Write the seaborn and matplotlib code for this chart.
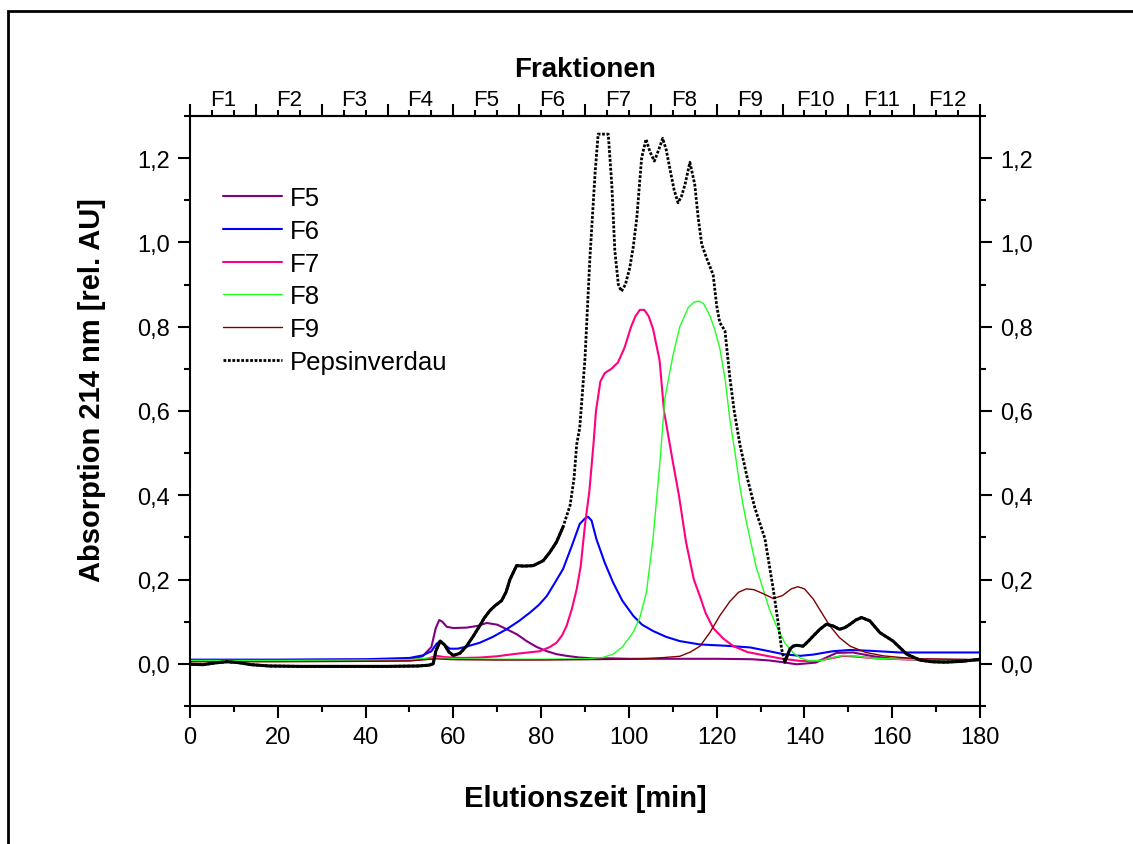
import numpy as np
import pandas as pd
import matplotlib
matplotlib.use("Agg")
import matplotlib.pyplot as plt
from matplotlib.ticker import MultipleLocator, FuncFormatter
from matplotlib.patches import Rectangle
import seaborn as sns

# ---------------- data ----------------
f5_x = [0, 20, 40, 50, 53, 55, 56, 56.8, 57.5, 58.5, 60, 63, 65.5, 67.6, 70, 72, 74.5, 76.7, 79, 81.3,
        83.5, 85.8, 88.8, 92, 96, 100, 110, 120, 128, 132, 135, 138.2, 142.6, 145, 147.3, 151, 155.7, 160, 168, 180]
f5_y = [0.009, 0.009, 0.01, 0.012, 0.018, 0.04, 0.085, 0.104, 0.1, 0.088, 0.085, 0.086, 0.09, 0.097, 0.093,
        0.083, 0.07, 0.054, 0.04, 0.030, 0.023, 0.019, 0.015, 0.013, 0.013, 0.012, 0.012, 0.012, 0.011, 0.008,
        0.004, -0.001, 0.003, 0.015, 0.026, 0.027, 0.018, 0.012, 0.01, 0.009]

f6_x = [0, 20, 40, 50, 53, 55, 56.2, 57, 58, 59.2, 61, 63, 66, 69, 72.1, 75, 77.5, 79.5, 81.3, 83, 85, 87,
        88.8, 90, 90.7, 91.5, 92.6, 94.5, 96.4, 98.5, 101, 103, 105.5, 108.5, 111.6, 116.2, 122, 127.6, 131,
        135.2, 139, 142, 146.5, 150.4, 155, 161.7, 170, 180]
f6_y = [0.01, 0.01, 0.011, 0.014, 0.02, 0.03, 0.048, 0.054, 0.045, 0.036, 0.036, 0.041, 0.05, 0.064, 0.082,
        0.102, 0.122, 0.14, 0.161, 0.19, 0.225, 0.28, 0.332, 0.345, 0.349, 0.34, 0.296, 0.24, 0.193, 0.15,
        0.114, 0.093, 0.078, 0.064, 0.054, 0.046, 0.043, 0.039, 0.032, 0.023, 0.019, 0.022, 0.030, 0.033,
        0.031, 0.027, 0.027, 0.027]

f7_x = [0, 20, 40, 50, 54, 56.2, 58, 62, 66, 70, 73.6, 77, 79.7, 82, 83.5, 84.8, 85.8, 87, 88.1, 89, 90,
        91, 92, 92.5, 93.5, 94.5, 96, 97.5, 99, 100.5, 101.5, 102.5, 103.5, 104.5, 105.5, 107, 108, 110, 111.4,
        113, 114.8, 116.2, 117.5, 119.2, 121.5, 123.8, 127, 131.4, 135, 139, 143, 146, 148.8, 152, 156, 165, 180]
f7_y = [0.007, 0.007, 0.007, 0.008, 0.012, 0.019, 0.016, 0.014, 0.015, 0.018, 0.023, 0.027, 0.030, 0.04,
        0.05, 0.068, 0.09, 0.13, 0.177, 0.23, 0.33, 0.41, 0.53, 0.6, 0.67, 0.69, 0.70, 0.715, 0.75, 0.8,
        0.825, 0.84, 0.84, 0.825, 0.795, 0.72, 0.6, 0.48, 0.4, 0.29, 0.2, 0.16, 0.12, 0.085, 0.06, 0.042,
        0.028, 0.019, 0.012, 0.007, 0.007, 0.013, 0.019, 0.017, 0.013, 0.01, 0.008]

f8_x = [0, 20, 40, 50, 56, 60, 70, 80, 90, 94, 96.4, 98.5, 101, 102.5, 104, 105.5, 107, 108.2, 110, 111.6,
        113.5, 114.8, 115.9, 117, 118.5, 119.5, 120.7, 122, 123, 124.2, 125.3, 126.5, 127.6, 129, 130.6, 132,
        133.6, 135.5, 137.4, 139, 141.2, 144, 146, 148.8, 152, 156, 165, 180]
f8_y = [0.008, 0.008, 0.009, 0.01, 0.015, 0.012, 0.011, 0.011, 0.012, 0.015, 0.023, 0.04, 0.075, 0.11, 0.17,
        0.297, 0.47, 0.63, 0.73, 0.80, 0.845, 0.858, 0.861, 0.855, 0.825, 0.795, 0.75, 0.67, 0.58, 0.5, 0.42,
        0.35, 0.297, 0.23, 0.177, 0.13, 0.09, 0.05, 0.027, 0.014, 0.007, 0.008, 0.014, 0.02, 0.018, 0.013,
        0.01, 0.008]

f9_x = [0, 20, 40, 50, 56, 60, 70, 80, 90, 100, 105, 108, 111.6, 114, 116.2, 118.5, 120.7, 123, 125, 126.8,
        128.5, 130.5, 132.9, 135, 137, 138.5, 140, 142, 144, 145.8, 148, 150.4, 154, 158, 162, 167, 180]
f9_y = [0.005, 0.005, 0.006, 0.007, 0.012, 0.01, 0.009, 0.009, 0.01, 0.011, 0.013, 0.015, 0.018, 0.028,
        0.042, 0.075, 0.114, 0.148, 0.17, 0.178, 0.176, 0.167, 0.155, 0.162, 0.178, 0.183, 0.178, 0.154,
        0.12, 0.09, 0.062, 0.042, 0.027, 0.019, 0.015, 0.012, 0.01]

pep_x = [0, 3, 5.5, 8.4, 11, 14, 18, 25, 35, 45, 52, 54.5, 55.4, 56, 57, 58, 59, 60, 61.5, 63, 64.5, 66, 67,
         68.3, 69.5, 71, 72, 72.9, 74.4, 76, 78.2, 80.5, 82, 83.5, 85, 86.6, 87.5, 88.1, 88.8, 90, 91.1, 92.3,
         93, 94, 95.3, 96.1, 96.8, 97.6, 98.3, 99.2, 100.2, 101, 101.8, 102.9, 103.9, 104.8, 105.8, 106.8,
         107.7, 108.5, 109.3, 110.3, 111.2, 112, 112.8, 113.9, 115, 115.8, 116.6, 117.7, 119.2, 120, 120.7,
         121.9, 123, 124, 125.3, 127, 128.7, 131, 132.9, 134, 134.8, 135.5, 136.1, 136.7, 137.4, 138.2, 139.7,
         141, 142, 143.5, 145, 146.5, 148, 149.2, 150.4, 151.7, 153, 154.9, 157.2, 160.2, 163.3, 166.3, 169,
         172, 176, 180]
pep_y = [-0.001, -0.002, 0.002, 0.005, 0.003, -0.002, -0.005, -0.006, -0.006, -0.006, -0.005, -0.003, 0.0,
         0.03, 0.054, 0.045, 0.028, 0.02, 0.025, 0.042, 0.065, 0.09, 0.108, 0.126, 0.138, 0.15, 0.17, 0.2,
         0.233, 0.232, 0.233, 0.245, 0.265, 0.289, 0.325, 0.376, 0.44, 0.52, 0.56, 0.725, 0.96, 1.165, 1.257,
         1.257, 1.257, 1.138, 0.98, 0.9, 0.884, 0.9, 0.94, 0.99, 1.058, 1.2, 1.245, 1.215, 1.193, 1.22, 1.247,
         1.22, 1.177, 1.125, 1.094, 1.11, 1.138, 1.19, 1.138, 1.058, 0.995, 0.963, 0.923, 0.85, 0.81, 0.79,
         0.68, 0.6, 0.52, 0.44, 0.37, 0.297, 0.177, 0.098, 0.035, 0.004, 0.02, 0.035, 0.042, 0.044, 0.042,
         0.055, 0.066, 0.082, 0.094, 0.09, 0.082, 0.086, 0.094, 0.104, 0.11, 0.102, 0.074, 0.054, 0.023,
         0.009, 0.005, 0.004, 0.006, 0.011]

fraction_labels = ["F1", "F2", "F3", "F4", "F5", "F6", "F7", "F8", "F9", "F10", "F11", "F12"]
fraction_width = 15  # minutes per fraction

# ---------------- style ----------------
sns.set_style("ticks")
plt.rcParams["font.family"] = ["Liberation Sans", "DejaVu Sans"]
for k in ["text.color", "axes.labelcolor", "xtick.color", "ytick.color", "axes.edgecolor"]:
    plt.rcParams[k] = "black"
plt.rcParams["axes.linewidth"] = 1.5

fig = plt.figure(figsize=(11.33, 8.45), dpi=100)
ax = fig.add_axes([190 / 1133, 1 - 707 / 845, 790 / 1133, 590 / 845])

series = [
    ("F5", f5_x, f5_y, "#800080", 1.5),
    ("F6", f6_x, f6_y, "#0000FF", 1.5),
    ("F7", f7_x, f7_y, "#FF0080", 1.5),
    ("F8", f8_x, f8_y, "#22FF22", 1.0),
    ("F9", f9_x, f9_y, "#800000", 1.0),
]
for name, xs, ys, col, lw in series:
    sns.lineplot(x=xs, y=ys, ax=ax, color=col, lw=lw, label=name, estimator=None, sort=False)

pep = pd.DataFrame({"x": pep_x, "y": pep_y})
sns.lineplot(data=pep, x="x", y="y", ax=ax, color="black", lw=2.0, ls=(0, (1, 0.6)),
             label="Pepsinverdau", estimator=None, sort=False)
low_left = pep[pep["x"] <= 85]
low_right = pep[pep["x"] >= 135.5]
sns.lineplot(data=low_left, x="x", y="y", ax=ax, color="black", lw=2.2, estimator=None, sort=False,
             label="_nolegend_")
sns.lineplot(data=low_right, x="x", y="y", ax=ax, color="black", lw=2.2, estimator=None, sort=False,
             label="_nolegend_")

ax.set_xlim(0, 180)
ax.set_ylim(-0.1, 1.3)
ax.xaxis.set_major_locator(MultipleLocator(20))
ax.xaxis.set_minor_locator(MultipleLocator(10))
ax.yaxis.set_major_locator(MultipleLocator(0.2))
ax.yaxis.set_minor_locator(MultipleLocator(0.1))
comma = FuncFormatter(lambda v, p: f"{v:.1f}".replace(".", ","))
ax.yaxis.set_major_formatter(comma)
ax.tick_params(axis="both", which="major", direction="out", length=8.5, width=1.5, labelsize=17,
               colors="black", pad=6)
ax.tick_params(axis="both", which="minor", direction="out", length=4, width=1.5)
ax.tick_params(axis="y", which="both", right=True, labelright=True)
for s in ax.spines.values():
    s.set_visible(True)
    s.set_linewidth(1.5)
    s.set_color("black")

ax.set_xlabel("Elutionszeit [min]", fontsize=21, fontweight="bold", labelpad=26)
ax.set_ylabel("Absorption 214 nm [rel. AU]", fontsize=21, fontweight="bold", labelpad=22)
ax.yaxis.label.set_y(0.537)

# top fraction axis
bounds = np.arange(0, 180 + fraction_width, fraction_width)
centers = bounds[:-1] + fraction_width / 2
top = ax.secondary_xaxis("top")
top.set_xticks(bounds)
top.set_xticklabels([""] * len(bounds))
top.xaxis.set_minor_locator(MultipleLocator(5))
top.tick_params(which="major", direction="out", length=8.5, width=1.5)
top.tick_params(which="minor", direction="out", length=4, width=1.5)
top.spines["top"].set_linewidth(1.5)

top2 = ax.secondary_xaxis("top")
top2.set_xticks(centers)
top2.set_xticklabels(fraction_labels)
top2.tick_params(length=0, labelsize=16, pad=4)
top2.spines["top"].set_visible(False)
top2.set_xlabel("Fraktionen", fontsize=20, fontweight="bold", labelpad=10)

leg = ax.legend(loc="upper left", bbox_to_anchor=(0.042, 0.881), frameon=False, fontsize=18.5,
                handlelength=2.3, handletextpad=0.3, labelspacing=0.34, borderpad=0, borderaxespad=0)

fig.add_artist(Rectangle((8 / 1133, -0.1), 1.2, 1.1 - 12 / 845, transform=fig.transFigure,
                         fill=False, lw=2, ec="black", clip_on=False))

fig.savefig("out.png", dpi=100)
